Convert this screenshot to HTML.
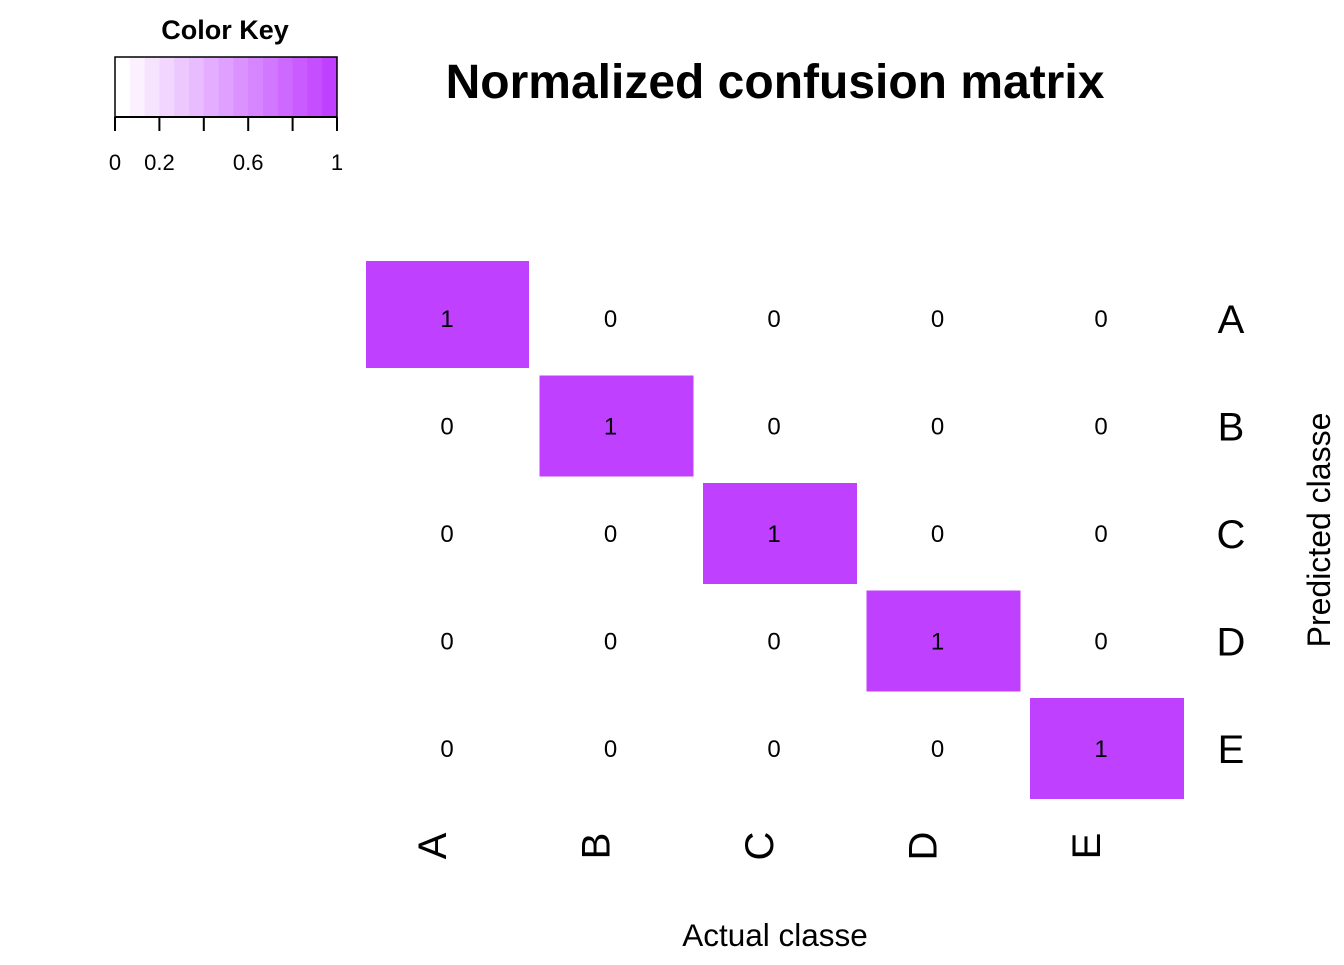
<!DOCTYPE html>
<html><head><meta charset="utf-8"><style>
body{margin:0;background:#fff;}
svg text{font-family:"Liberation Sans",Arial,sans-serif;}
</style></head><body>
<svg id="chart" width="1344" height="960" viewBox="0 0 1344 960">
<text x="225" y="39" font-size="27" font-weight="bold" text-anchor="middle">Color Key</text>
<g id="key"></g>
<text x="775" y="98" font-size="48" font-weight="bold" text-anchor="middle">Normalized confusion matrix</text>
<g id="cells"></g>
<text x="775" y="946" font-size="31.5" text-anchor="middle">Actual classe</text>
<text transform="translate(1330,530) rotate(-90)" font-size="32" text-anchor="middle">Predicted classe</text>
</svg>
<script>
const actualClasses=["A","B","C","D","E"];
const predictedClasses=["A","B","C","D","E"];
const matrixValues=[[1,0,0,0,0],[0,1,0,0,0],[0,0,1,0,0],[0,0,0,1,0],[0,0,0,0,1]];
const keyTicks=[0,0.2,0.4,0.6,0.8,1];
const keyLabels=["0","0.2","","0.6","","1"];
const NS="http://www.w3.org/2000/svg";
function mk(t,a,p){const e=document.createElementNS(NS,t);for(const k in a)e.setAttribute(k,a[k]);p.appendChild(e);return e;}
function col(v){const r=Math.round(255+(192-255)*v),g=Math.round(255+(64-255)*v);return `rgb(${r},${g},255)`;}
const xC=i=>447+i*163.5, yC=j=>318+j*107.5;
const cells=document.getElementById('cells');
predictedClasses.forEach((p,j)=>{actualClasses.forEach((a,i)=>{
 const v=matrixValues[j][i];
 if(v>0){const r=mk('rect',{x:i===0?xC(i)-81:xC(i)-75+4,y:i===0?yC(j)-57:yC(j)-50,width:i===0?163:154,height:i===0?107:101,fill:col(v)},cells);
 
 }
 const t=mk('text',{x:xC(i),y:yC(j)+9,'font-size':24,'text-anchor':'middle'},cells);t.textContent=v;
 
 
});
 const l=mk('text',{x:1231,y:yC(j)+15,'font-size':40,'text-anchor':'middle'},cells);l.textContent=p;
 
 
});
actualClasses.forEach((a,i)=>{
 const l=mk('text',{transform:`translate(${xC(i)-14},846) rotate(-90)`,'font-size':40,'text-anchor':'middle','dominant-baseline':'central'},cells);l.textContent=a;
 
 
});
const key=document.getElementById('key');
const kx=v=>115+v*222;const n=15;
for(let k=0;k<n;k++){const r=mk('rect',{x:kx(k/n),y:57,width:222/n+0.5,height:60,fill:col(k/(n-1))},key);
 
 }
mk('rect',{x:115,y:57,width:222,height:60,fill:'none',stroke:'#000','stroke-width':1.5},key);
mk('line',{x1:115,x2:337,y1:117,y2:117,stroke:'#000','stroke-width':2},key);
keyTicks.forEach((t,k)=>{mk('line',{x1:kx(t),x2:kx(t),y1:117,y2:131,stroke:'#000','stroke-width':2},key);
 const tx=mk('text',{x:kx(t),y:170,'font-size':22,'text-anchor':'middle'},key);tx.textContent=keyLabels[k];
 
 });
</script>
</body></html>
